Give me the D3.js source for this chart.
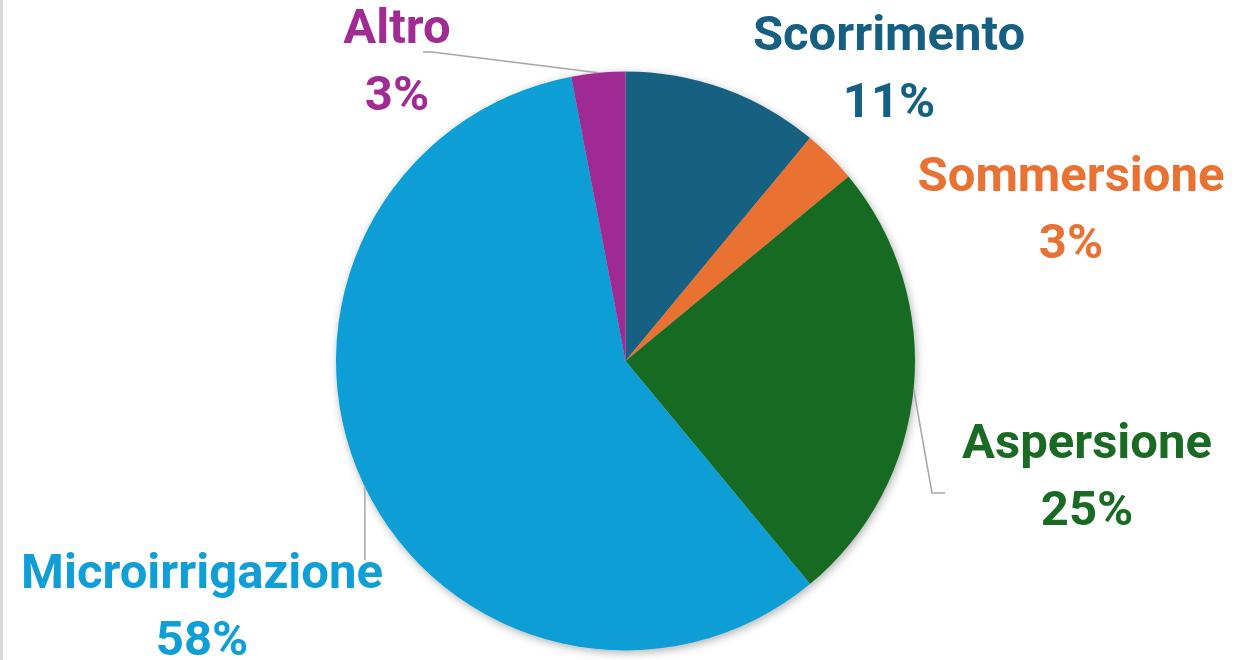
<!DOCTYPE html>
<html>
<head>
<meta charset="utf-8">
<script src="https://cdn.jsdelivr.net/npm/d3@7"></script>
<style>
  html, body { margin: 0; padding: 0; background: #ffffff; }
  svg { display: block; }
</style>
</head>
<body>
<svg id="chart" width="1242" height="660"></svg>
<script>
// Irrigation methods, share of irrigated area (%)
const categories = ["Scorrimento", "Sommersione", "Aspersione", "Microirrigazione", "Altro"];
const shares = [11, 3, 25, 58, 3];
const colors = ["#156082", "#E97132", "#196B24", "#0F9ED5", "#A02B93"];

const W = 1242, H = 660;
const cx = 625.5, cy = 361, R = 289.5;

const svg = d3.select("#chart");

// thin frame edge on the left
svg.append("rect").attr("x", 0).attr("y", 0).attr("width", 3).attr("height", H).attr("fill", "#d9d9d9");

const defs = svg.append("defs");
const shadow = defs.append("filter").attr("id", "pieShadow")
  .attr("x", "-10%").attr("y", "-10%").attr("width", "120%").attr("height", "120%");
shadow.append("feDropShadow")
  .attr("dx", 1.5).attr("dy", 2.5).attr("stdDeviation", 4)
  .attr("flood-color", "#000").attr("flood-opacity", 0.3);

const pie = d3.pie().sort(null).value(d => d.v);
const arcs = pie(categories.map((c, i) => ({ name: c, v: shares[i], color: colors[i] })));
const arc = d3.arc().innerRadius(0).outerRadius(R);

const g = svg.append("g").attr("transform", `translate(${cx},${cy})`);
g.append("g").attr("filter", "url(#pieShadow)")
  .selectAll("path").data(arcs).join("path")
  .attr("d", arc)
  .attr("fill", d => d.data.color);

// label placement (centre x, first baseline)
const labelPos = {
  "Scorrimento":      { x: 889,  y: 50 },
  "Sommersione":      { x: 1071, y: 191 },
  "Aspersione":       { x: 1087, y: 458 },
  "Microirrigazione": { x: 202,  y: 588 },
  "Altro":            { x: 397,  y: 43 }
};

// leader lines: point on the slice edge, then a bend toward the label
function edgePoint(d) {
  const a = (d.startAngle + d.endAngle) / 2;
  return [cx + R * Math.sin(a), cy - R * Math.cos(a)];
}
function edgeAt(y, side) {
  const dy = y - cy;
  const dx = Math.sqrt(R * R - dy * dy);
  return [cx + side * dx, y];
}
const leaders = [];
arcs.forEach(d => {
  const n = d.data.name;
  if (n === "Altro") {
    const p = edgePoint(d);
    leaders.push([p, [432, 52], [423, 52]]);
  } else if (n === "Aspersione") {
    const p = edgeAt(389, 1);
    leaders.push([p, [932, 493], [945, 493]]);
  } else if (n === "Microirrigazione") {
    const p = edgeAt(487, -1);
    leaders.push([p, [p[0], 560]]);
  }
});
svg.append("g").selectAll("path").data(leaders).join("path")
  .attr("d", d => d3.line()(d))
  .attr("fill", "none")
  .attr("stroke", "#a6a6a6")
  .attr("stroke-width", 1.5);

const labels = svg.append("g")
  .attr("font-family", "Roboto, 'Open Sans', sans-serif")
  .attr("font-weight", "bold")
  .attr("font-size", 49)
  .attr("text-anchor", "middle");
arcs.forEach(d => {
  const p = labelPos[d.data.name];
  const t = labels.append("text").attr("fill", d.data.color);
  t.append("tspan").attr("x", p.x).attr("y", p.y).text(d.data.name);
  t.append("tspan").attr("x", p.x).attr("y", p.y + 67).text(d.data.v + "%");
});
</script>
</body>
</html>
